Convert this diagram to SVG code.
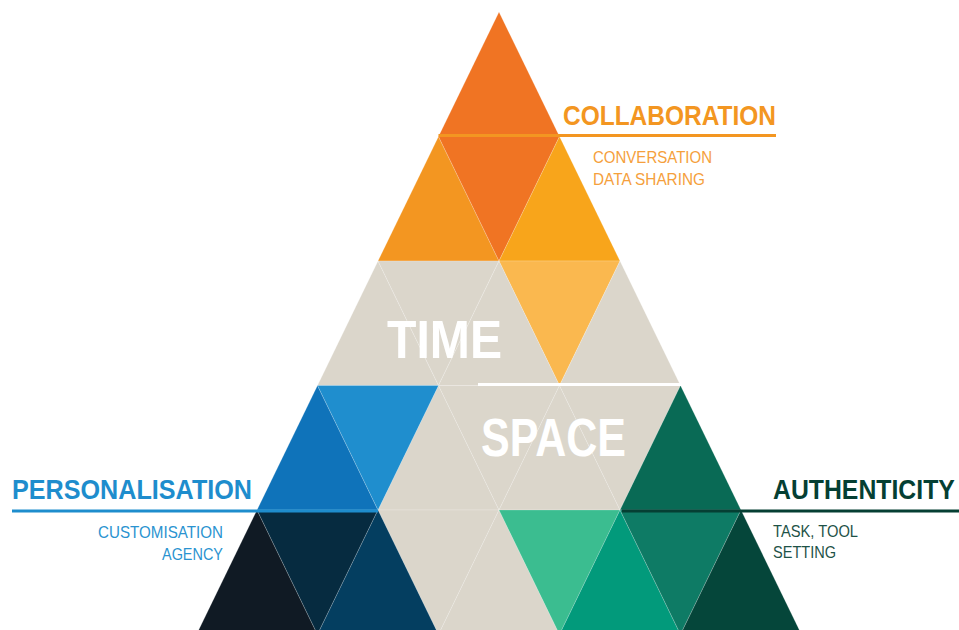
<svg xmlns="http://www.w3.org/2000/svg" width="959" height="630" viewBox="0 0 959 630">
<style>
polygon{stroke:#ffffff;stroke-opacity:0.3;stroke-width:0.6}
.bg{fill:#DBD6CB}
text{font-family:"Liberation Sans",Arial,sans-serif}
.h{font-weight:bold;font-size:28px}
.s{font-size:16.5px}
.big{font-weight:bold;font-size:53px;fill:#ffffff}
</style>
<rect width="959" height="630" fill="#ffffff"/>
<g id="collaboration">
<polygon points="499,12 559.5,136.5 438.5,136.5" fill="#F07423"/>
<polygon points="438.5,136.5 499,261 378,261" fill="#F39621"/>
<polygon points="438.5,136.5 559.5,136.5 499,261" fill="#F07423"/>
<polygon points="559.5,136.5 620,261 499,261" fill="#F8A51B"/>
<polygon points="499,261 620,261 559.5,385.5" fill="#FAB84F"/>
<text class="h" x="563" y="125" fill="#F39621" textLength="213" lengthAdjust="spacingAndGlyphs">COLLABORATION</text>
<text class="s" x="593" y="163" fill="#F5A03C" textLength="119" lengthAdjust="spacingAndGlyphs">CONVERSATION</text>
<text class="s" x="593" y="184.5" fill="#F5A03C" textLength="112" lengthAdjust="spacingAndGlyphs">DATA SHARING</text>
</g>
<g id="time-space">
<polygon class="bg" points="378,261 438.5,385.5 317.5,385.5"/>
<polygon class="bg" points="378,261 499,261 438.5,385.5"/>
<polygon class="bg" points="499,261 559.5,385.5 438.5,385.5"/>
<polygon class="bg" points="620,261 680.5,385.5 559.5,385.5"/>
<polygon class="bg" points="438.5,385.5 499,510 378,510"/>
<polygon class="bg" points="438.5,385.5 559.5,385.5 499,510"/>
<polygon class="bg" points="559.5,385.5 620,510 499,510"/>
<polygon class="bg" points="559.5,385.5 680.5,385.5 620,510"/>
<polygon class="bg" points="378,510 499,510 438.5,634.5"/>
<polygon class="bg" points="499,510 559.5,634.5 438.5,634.5"/>
<text class="big" x="387" y="358" textLength="115" lengthAdjust="spacingAndGlyphs">TIME</text>
<text class="big" x="481" y="456" textLength="145" lengthAdjust="spacingAndGlyphs">SPACE</text>
</g>
<g id="personalisation">
<polygon points="317.5,385.5 378,510 257,510" fill="#0F73BA"/>
<polygon points="317.5,385.5 438.5,385.5 378,510" fill="#1F8ECE"/>
<polygon points="257,510 317.5,634.5 196.5,634.5" fill="#101A24"/>
<polygon points="257,510 378,510 317.5,634.5" fill="#062B40"/>
<polygon points="378,510 438.5,634.5 317.5,634.5" fill="#043E60"/>
<text class="h" x="12" y="499" fill="#1E8DCD" textLength="240" lengthAdjust="spacingAndGlyphs" font-size="29">PERSONALISATION</text>
<text class="s" x="223" y="538" fill="#2A93D0" text-anchor="end" textLength="125" lengthAdjust="spacingAndGlyphs">CUSTOMISATION</text>
<text class="s" x="223" y="559.5" fill="#2A93D0" text-anchor="end" textLength="61" lengthAdjust="spacingAndGlyphs">AGENCY</text>
</g>
<g id="authenticity">
<polygon points="680.5,385.5 741,510 620,510" fill="#096A55"/>
<polygon points="499,510 620,510 559.5,634.5" fill="#3BBD90"/>
<polygon points="620,510 680.5,634.5 559.5,634.5" fill="#029A7B"/>
<polygon points="620,510 741,510 680.5,634.5" fill="#0E7B65"/>
<polygon points="741,510 801.5,634.5 680.5,634.5" fill="#05463A"/>
<text x="0" y="0" transform="translate(773,499) scale(1,1.12)" fill="#053F33" font-weight="bold" font-size="24.8">AUTHENTICITY</text>
<text class="s" x="773" y="536.5" fill="#1E5247" textLength="85" lengthAdjust="spacingAndGlyphs">TASK, TOOL</text>
<text class="s" x="773" y="558" fill="#1E5247" textLength="63" lengthAdjust="spacingAndGlyphs">SETTING</text>
</g>
<g id="connectors" stroke-width="3" fill="none">
<line x1="438.5" y1="135.5" x2="776" y2="135.5" stroke="#F39621"/>
<line x1="478" y1="384.5" x2="681" y2="384.5" stroke="#ffffff"/>
<line x1="12" y1="511" x2="378" y2="511" stroke="#1E8DCD"/>
<line x1="622" y1="511" x2="959" y2="511" stroke="#053F33"/>
</g>
</svg>
